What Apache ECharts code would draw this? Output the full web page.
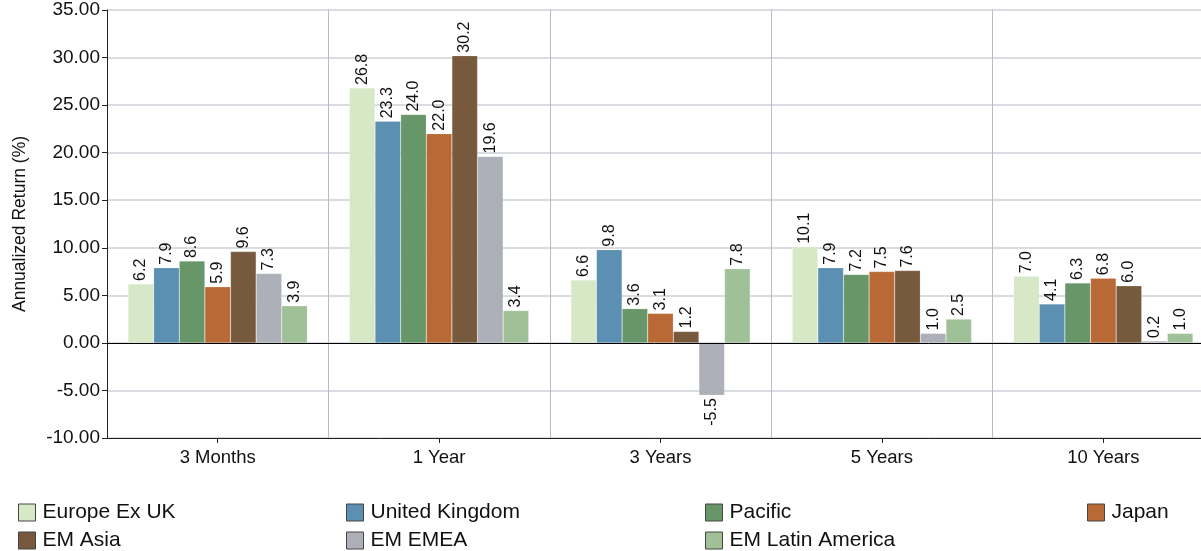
<!DOCTYPE html>
<html>
<head>
<meta charset="utf-8">
<script src="https://cdn.jsdelivr.net/npm/echarts@6/dist/echarts.min.js"></script>
<style>
html,body{margin:0;padding:0;background:#fff;}
#chart{width:1201px;height:551px;}
</style>
</head>
<body>
<div id="chart"></div>
<script>
const categories = ['3 Months', '1 Year', '3 Years', '5 Years', '10 Years'];
const seriesNames = ['Europe Ex UK', 'United Kingdom', 'Pacific', 'Japan', 'EM Asia', 'EM EMEA', 'EM Latin America'];
const europeExUK = [6.2, 26.8, 6.6, 10.1, 7.0];
const unitedKingdom = [7.9, 23.3, 9.8, 7.9, 4.1];
const pacific = [8.6, 24.0, 3.6, 7.2, 6.3];
const japan = [5.9, 22.0, 3.1, 7.5, 6.8];
const emAsia = [9.6, 30.2, 1.2, 7.6, 6.0];
const emEMEA = [7.3, 19.6, -5.5, 1.0, 0.2];
const emLatinAmerica = [3.9, 3.4, 7.8, 2.5, 1.0];
const yTicks = { min: -10, max: 35, interval: 5 };

const values = [europeExUK, unitedKingdom, pacific, japan, emAsia, emEMEA, emLatinAmerica];
const colors = ['#d6e8c5', '#5b90b2', '#679768', '#b96935', '#775a3d', '#adb0b8', '#a0c197'];
const FONT = 'Liberation Sans, Arial, sans-serif';

const series = seriesNames.map((name, i) => ({
  name: name,
  type: 'bar',
  barGap: '0%',
  barCategoryGap: '19%',
  itemStyle: { color: colors[i], borderColor: 'rgba(255,255,255,0.35)', borderWidth: 0.5 },
  label: {
    show: true,
    position: 'top',
    rotate: 90,
    align: 'left',
    verticalAlign: 'middle',
    distance: 3,
    fontFamily: FONT,
    fontSize: 16,
    color: '#111',
    formatter: p => Number(p.value).toFixed(1)
  },
  data: values[i].map(v => v < 0 ? { value: v, label: { position: 'bottom', align: 'right' } } : v),
  markLine: i === 0 ? {
    silent: true,
    symbol: 'none',
    label: { show: false },
    lineStyle: { color: '#000', width: 1, type: 'solid' },
    data: [{ yAxis: 0 }]
  } : undefined
}));

// legend placement: [series index, left, top]
const legendSlots = [
  [0, 18, 502], [1, 346, 502], [2, 705, 502], [3, 1087, 502],
  [4, 18, 530], [5, 346, 530], [6, 705, 530]
];

const chart = echarts.init(document.getElementById('chart'), null, { renderer: 'canvas' });
chart.setOption({
  animation: false,
  backgroundColor: '#fff',
  textStyle: { fontFamily: FONT },
  grid: { left: 107, top: 10, width: 1107, height: 428, containLabel: false, outerBoundsMode: 'none' },
  legend: legendSlots.map(s => ({
    left: s[1],
    top: s[2],
    padding: 0,
    itemWidth: 17,
    itemHeight: 17,
    icon: 'rect',
    itemStyle: { borderColor: '#444', borderWidth: 1 },
    textStyle: { fontFamily: FONT, fontSize: 21, color: '#111', padding: [0, 0, 0, 2] },
    data: [seriesNames[s[0]]],
    selectedMode: false
  })),
  xAxis: {
    type: 'category',
    data: categories,
    axisLine: { onZero: false, lineStyle: { color: '#222', width: 1 } },
    axisTick: { show: true, alignWithLabel: true, length: 5, lineStyle: { color: '#222' } },
    axisLabel: { fontFamily: FONT, fontSize: 18.5, color: '#111', margin: 10 },
    splitLine: { show: true, lineStyle: { color: '#b8bcc4', width: 1 } }
  },
  yAxis: {
    type: 'value',
    min: yTicks.min,
    max: yTicks.max,
    interval: yTicks.interval,
    name: 'Annualized Return (%)',
    nameLocation: 'middle',
    nameGap: 78,
    nameTextStyle: { fontFamily: FONT, fontSize: 17.5, color: '#111' },
    axisLine: { show: true, lineStyle: { color: '#222', width: 1 } },
    axisTick: { show: true, length: 5, lineStyle: { color: '#222' } },
    axisLabel: { fontFamily: FONT, fontSize: 19, color: '#111', margin: 7, formatter: v => v.toFixed(2) },
    splitLine: { show: true, lineStyle: { color: '#cdd0d6', width: 1.5 } }
  },
  series: series
});
</script>
</body>
</html>
